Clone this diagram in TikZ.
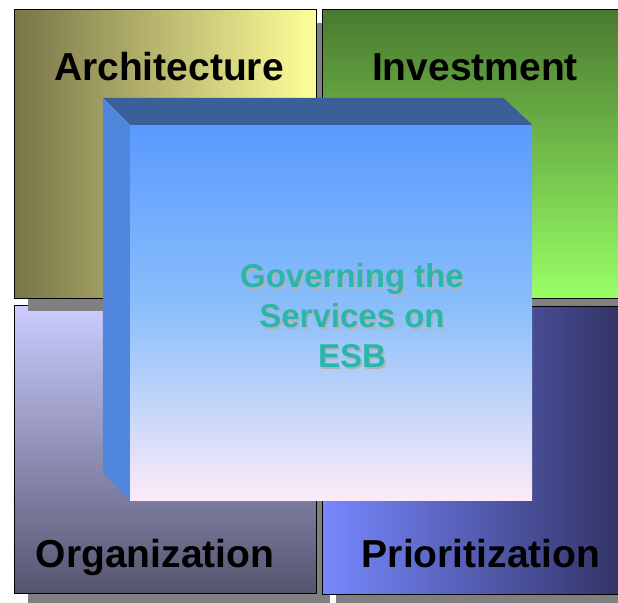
\documentclass[tikz,border=0pt]{standalone}
\usepackage{fontspec}
\setmainfont{Liberation Sans}
\usetikzlibrary{positioning,calc,shadows}

\definecolor{archdark}{RGB}{120,117,72}
\definecolor{archlight}{RGB}{255,255,153}
\definecolor{invdark}{RGB}{74,122,48}
\definecolor{invlight}{RGB}{153,255,102}
\definecolor{orglight}{RGB}{204,204,255}
\definecolor{orgdark}{RGB}{85,85,112}
\definecolor{priolight}{RGB}{119,136,255}
\definecolor{priodark}{RGB}{51,51,102}
\definecolor{cubetop}{RGB}{58,95,153}
\definecolor{cubeside}{RGB}{80,135,221}
\definecolor{cubefront}{RGB}{90,154,255}
\definecolor{cubemid}{RGB}{140,192,250}
\definecolor{cubebottom}{RGB}{252,235,248}
\definecolor{esbtext}{RGB}{43,181,171}

\begin{document}
\begin{tikzpicture}[x=1pt,y=-1pt,
	quad/.style={draw=black,line width=1pt,rectangle,inner sep=0pt,
		minimum width=#1,minimum height=288pt,
		drop shadow={shadow xshift=14pt,shadow yshift=-13pt,fill=gray,opacity=1}},
	title/.style={anchor=base,inner sep=0pt,font=\fontsize{39}{47}\selectfont\bfseries},
	esbfont/.style={align=center,inner sep=0pt,font=\fontsize{33}{40}\selectfont\bfseries}]

\useasboundingbox (0,0) rectangle (618,602);

% the four quadrants
\node [quad=302pt,bottom color=orgdark,top color=orglight] at (165,449) (org) {};
\node [quad=302pt,left color=archdark,right color=archlight] at (165,154) (arch) {};
\node [quad=300pt,top color=invdark,bottom color=invlight] at (472,154) (inv) {};
\node [quad=300pt,left color=priolight,right color=priodark] at (472,450) (prio) {};

\node [title] at (169,80)  (archtext) {Architecture};
\node [title] at (475,80)  (invtext)  {Investment};
\node [title] at (155,567) (orgtext)  {Organization};
\node [title] at (481,567) (priotext) {Prioritization};

%%%%%%%%%%%%%%%%%%%%%%%%%%%%%%%%%%%%%%%%%%%%%%%%%%%%%%%%%%%%%%%%

\node [rectangle,inner sep=0pt,minimum width=402pt,minimum height=375pt,
	top color=cubefront,bottom color=cubebottom,middle color=cubemid] at (331,312.5) (esb) {};

\fill [cubetop] (esb.north west) -- ++(-27,-27) -- ($(esb.north east)+(-29,-27)$) -- (esb.north east) -- cycle;
\fill [cubeside] (esb.north west) -- ++(-27,-27) -- ($(esb.south west)+(-27,-28)$) -- (esb.south west) -- cycle;

\node [esbfont,text=gray!60] at (353.5,317.5) (esbshadow) {Governing the\\Services on\\ESB};
\node [esbfont,text=esbtext] at (352,316) (esbtext) {Governing the\\Services on\\ESB};

%%%%%%%%%%%%%%%%%%%%%%%%%%%%%%%%%%%%%%%%%%%%%%%%%%%%%%%%%%%%%%%%

\end{tikzpicture}
\end{document}
